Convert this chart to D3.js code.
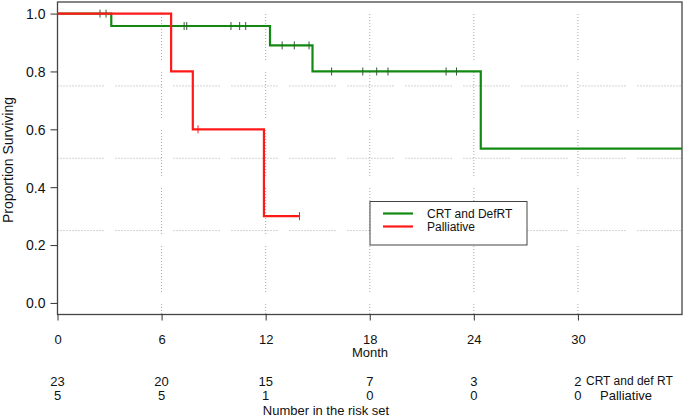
<!DOCTYPE html>
<html>
<head>
<meta charset="utf-8">
<script src="https://cdn.jsdelivr.net/npm/d3@7"></script>
<style>
  body { margin: 0; background: #fff; }
  text { font-family: "Liberation Sans", Arial, sans-serif; fill: #111; }
</style>
</head>
<body>
<div id="chart"></div>
<script>
// Kaplan-Meier curves (months, proportion)
let crtStepTimes = [3.1, 12.25, 14.7, 24.4];
let crtStepSurv = [0.957, 0.89, 0.80, 0.533];
let crtCensor = [2.45, 2.8, 7.3, 7.45, 10.0, 10.5, 10.85, 12.95, 13.65, 14.5, 15.8, 17.6, 18.4, 19.05, 22.4, 23.0];
let crtEnd = 36;

let palStepTimes = [6.55, 7.8, 11.9];
let palStepSurv = [0.8, 0.6, 0.3];
let palCensor = [8.1, 13.95];
let palEnd = 13.95;

let xTicks = [0, 6, 12, 18, 24, 30];
let yTicks = [0, 0.2, 0.4, 0.6, 0.8, 1.0];
let hGrid = [0.25, 0.5, 0.75];
let vGrid = [6, 12, 18, 24, 30];

let crtRisk = [23, 20, 15, 7, 3, 2];
let palRisk = [5, 5, 1, 0, 0, 0];

let svgWidth = 685;
let svgHeight = 417;

let plot = { left: 57.5, right: 682, top: 2, bottom: 314.5 };

let svg = d3.select("#chart")
    .append("svg")
    .attr("width", svgWidth)
    .attr("height", svgHeight);

let x = d3.scaleLinear().domain([0, 36]).range([plot.left, plot.right]);
let y = d3.scaleLinear().domain([-0.04, 1.04]).range([plot.bottom, plot.top]);

// dotted grid (dots in runs, with short breaks)
let gridDash = "1,2,1,2,1,2,1,2,1,2,1,2,1,2,1,2,1,2,1,2,1,2,1,2,1,2,1,2,1,2,1,12";
svg.append("g").selectAll("line")
    .data(hGrid)
    .enter()
    .append("line")
    .attr("x1", plot.left).attr("x2", plot.right)
    .attr("y1", d => y(d)).attr("y2", d => y(d))
    .attr("stroke", "#a8a8a8")
    .attr("stroke-dasharray", gridDash);

svg.append("g").selectAll("line")
    .data(vGrid)
    .enter()
    .append("line")
    .attr("x1", d => x(d)).attr("x2", d => x(d))
    .attr("y1", plot.top + 12).attr("y2", plot.bottom)
    .attr("stroke", "#a8a8a8")
    .attr("stroke-dasharray", gridDash);

// frame
svg.append("rect")
    .attr("x", plot.left).attr("y", plot.top)
    .attr("width", plot.right - plot.left)
    .attr("height", plot.bottom - plot.top)
    .attr("fill", "none")
    .attr("stroke", "#444")
    .attr("stroke-width", 1.3);

// axes
let xAxis = d3.axisBottom(x).tickValues(xTicks).tickSize(6).tickFormat(d3.format("d"));
let yAxis = d3.axisLeft(y).tickValues(yTicks).tickSize(7).tickFormat(d3.format(".1f"));

let gx = svg.append("g")
    .attr("transform", `translate(0, ${plot.bottom})`)
    .call(xAxis);
gx.select(".domain").remove();
gx.selectAll("line").attr("stroke", "#333");
gx.selectAll("text")
    .attr("dy", null).attr("y", 29)
    .attr("font-size", "13px")
    .attr("font-family", "Liberation Sans, Arial, sans-serif")
    .attr("fill", "#111");

let gy = svg.append("g")
    .attr("transform", `translate(${plot.left}, 0)`)
    .call(yAxis);
gy.select(".domain").remove();
gy.selectAll("line").attr("stroke", "#333");
gy.selectAll("text")
    .attr("x", -12).attr("dy", "0.35em")
    .attr("font-size", "14px")
    .attr("font-family", "Liberation Sans, Arial, sans-serif")
    .attr("fill", "#111");

// curves
function kmPath(times, surv, end) {
    let pts = [[0, 1]];
    let s = 1;
    times.forEach((t, i) => {
        pts.push([t, s]);
        s = surv[i];
        pts.push([t, s]);
    });
    pts.push([end, s]);
    return pts;
}

function survAt(times, surv, t) {
    let s = 1;
    times.forEach((tt, i) => { if (tt <= t) s = surv[i]; });
    return s;
}

let line = d3.line().x(d => x(d[0])).y(d => y(d[1]));

let green = "#128a12";
let red = "#ff1a1a";

svg.append("path")
    .datum(kmPath(crtStepTimes, crtStepSurv, crtEnd))
    .attr("d", line)
    .attr("fill", "none")
    .attr("stroke", green)
    .attr("stroke-width", 2.2);

svg.append("g").selectAll("line")
    .data(crtCensor)
    .enter()
    .append("line")
    .attr("x1", d => x(d)).attr("x2", d => x(d))
    .attr("y1", d => y(survAt(crtStepTimes, crtStepSurv, d)) - 4)
    .attr("y2", d => y(survAt(crtStepTimes, crtStepSurv, d)) + 4)
    .attr("stroke", "#2f5f2f")
    .attr("stroke-width", 1);

svg.append("path")
    .datum(kmPath(palStepTimes, palStepSurv, palEnd))
    .attr("d", line)
    .attr("fill", "none")
    .attr("stroke", red)
    .attr("stroke-width", 2.2);

svg.append("g").selectAll("line")
    .data(palCensor)
    .enter()
    .append("line")
    .attr("x1", d => x(d)).attr("x2", d => x(d))
    .attr("y1", d => y(survAt(palStepTimes, palStepSurv, d)) - 4)
    .attr("y2", d => y(survAt(palStepTimes, palStepSurv, d)) + 4)
    .attr("stroke", red)
    .attr("stroke-width", 1);

// legend
let legend = svg.append("g");
legend.append("rect")
    .attr("x", 370).attr("y", 201.5)
    .attr("width", 157).attr("height", 43.5)
    .attr("fill", "#fff")
    .attr("stroke", "#444");
[["CRT and DefRT", green, 213.5], ["Palliative", red, 226.5]].forEach(d => {
    legend.append("line")
        .attr("x1", 383).attr("x2", 413)
        .attr("y1", d[2]).attr("y2", d[2])
        .attr("stroke", d[1]).attr("stroke-width", 2.2);
    legend.append("text")
        .attr("x", 427).attr("y", d[2] + 4.5)
        .attr("font-size", "12px")
        .text(d[0]);
});

// axis titles
svg.append("text")
    .attr("x", 370).attr("y", 357)
    .attr("text-anchor", "middle")
    .attr("font-size", "13px")
    .text("Month");

svg.append("text")
    .attr("transform", "translate(13, 160) rotate(-90)")
    .attr("text-anchor", "middle")
    .attr("font-size", "14px")
    .text("Proportion Surviving");

// number at risk
svg.append("g").selectAll("text")
    .data(crtRisk)
    .enter()
    .append("text")
    .attr("x", (d, i) => x(xTicks[i]))
    .attr("y", 386)
    .attr("text-anchor", "middle")
    .attr("font-size", "13px")
    .text(d => d);

svg.append("g").selectAll("text")
    .data(palRisk)
    .enter()
    .append("text")
    .attr("x", (d, i) => x(xTicks[i]))
    .attr("y", 400)
    .attr("text-anchor", "middle")
    .attr("font-size", "13px")
    .text(d => d);

svg.append("text")
    .attr("x", 586).attr("y", 385)
    .attr("font-size", "12px")
    .text("CRT and def RT");

svg.append("text")
    .attr("x", 600).attr("y", 400)
    .attr("font-size", "13px")
    .text("Palliative");

svg.append("text")
    .attr("x", 326).attr("y", 415)
    .attr("text-anchor", "middle")
    .attr("font-size", "13px")
    .text("Number in the risk set");
</script>
</body>
</html>
